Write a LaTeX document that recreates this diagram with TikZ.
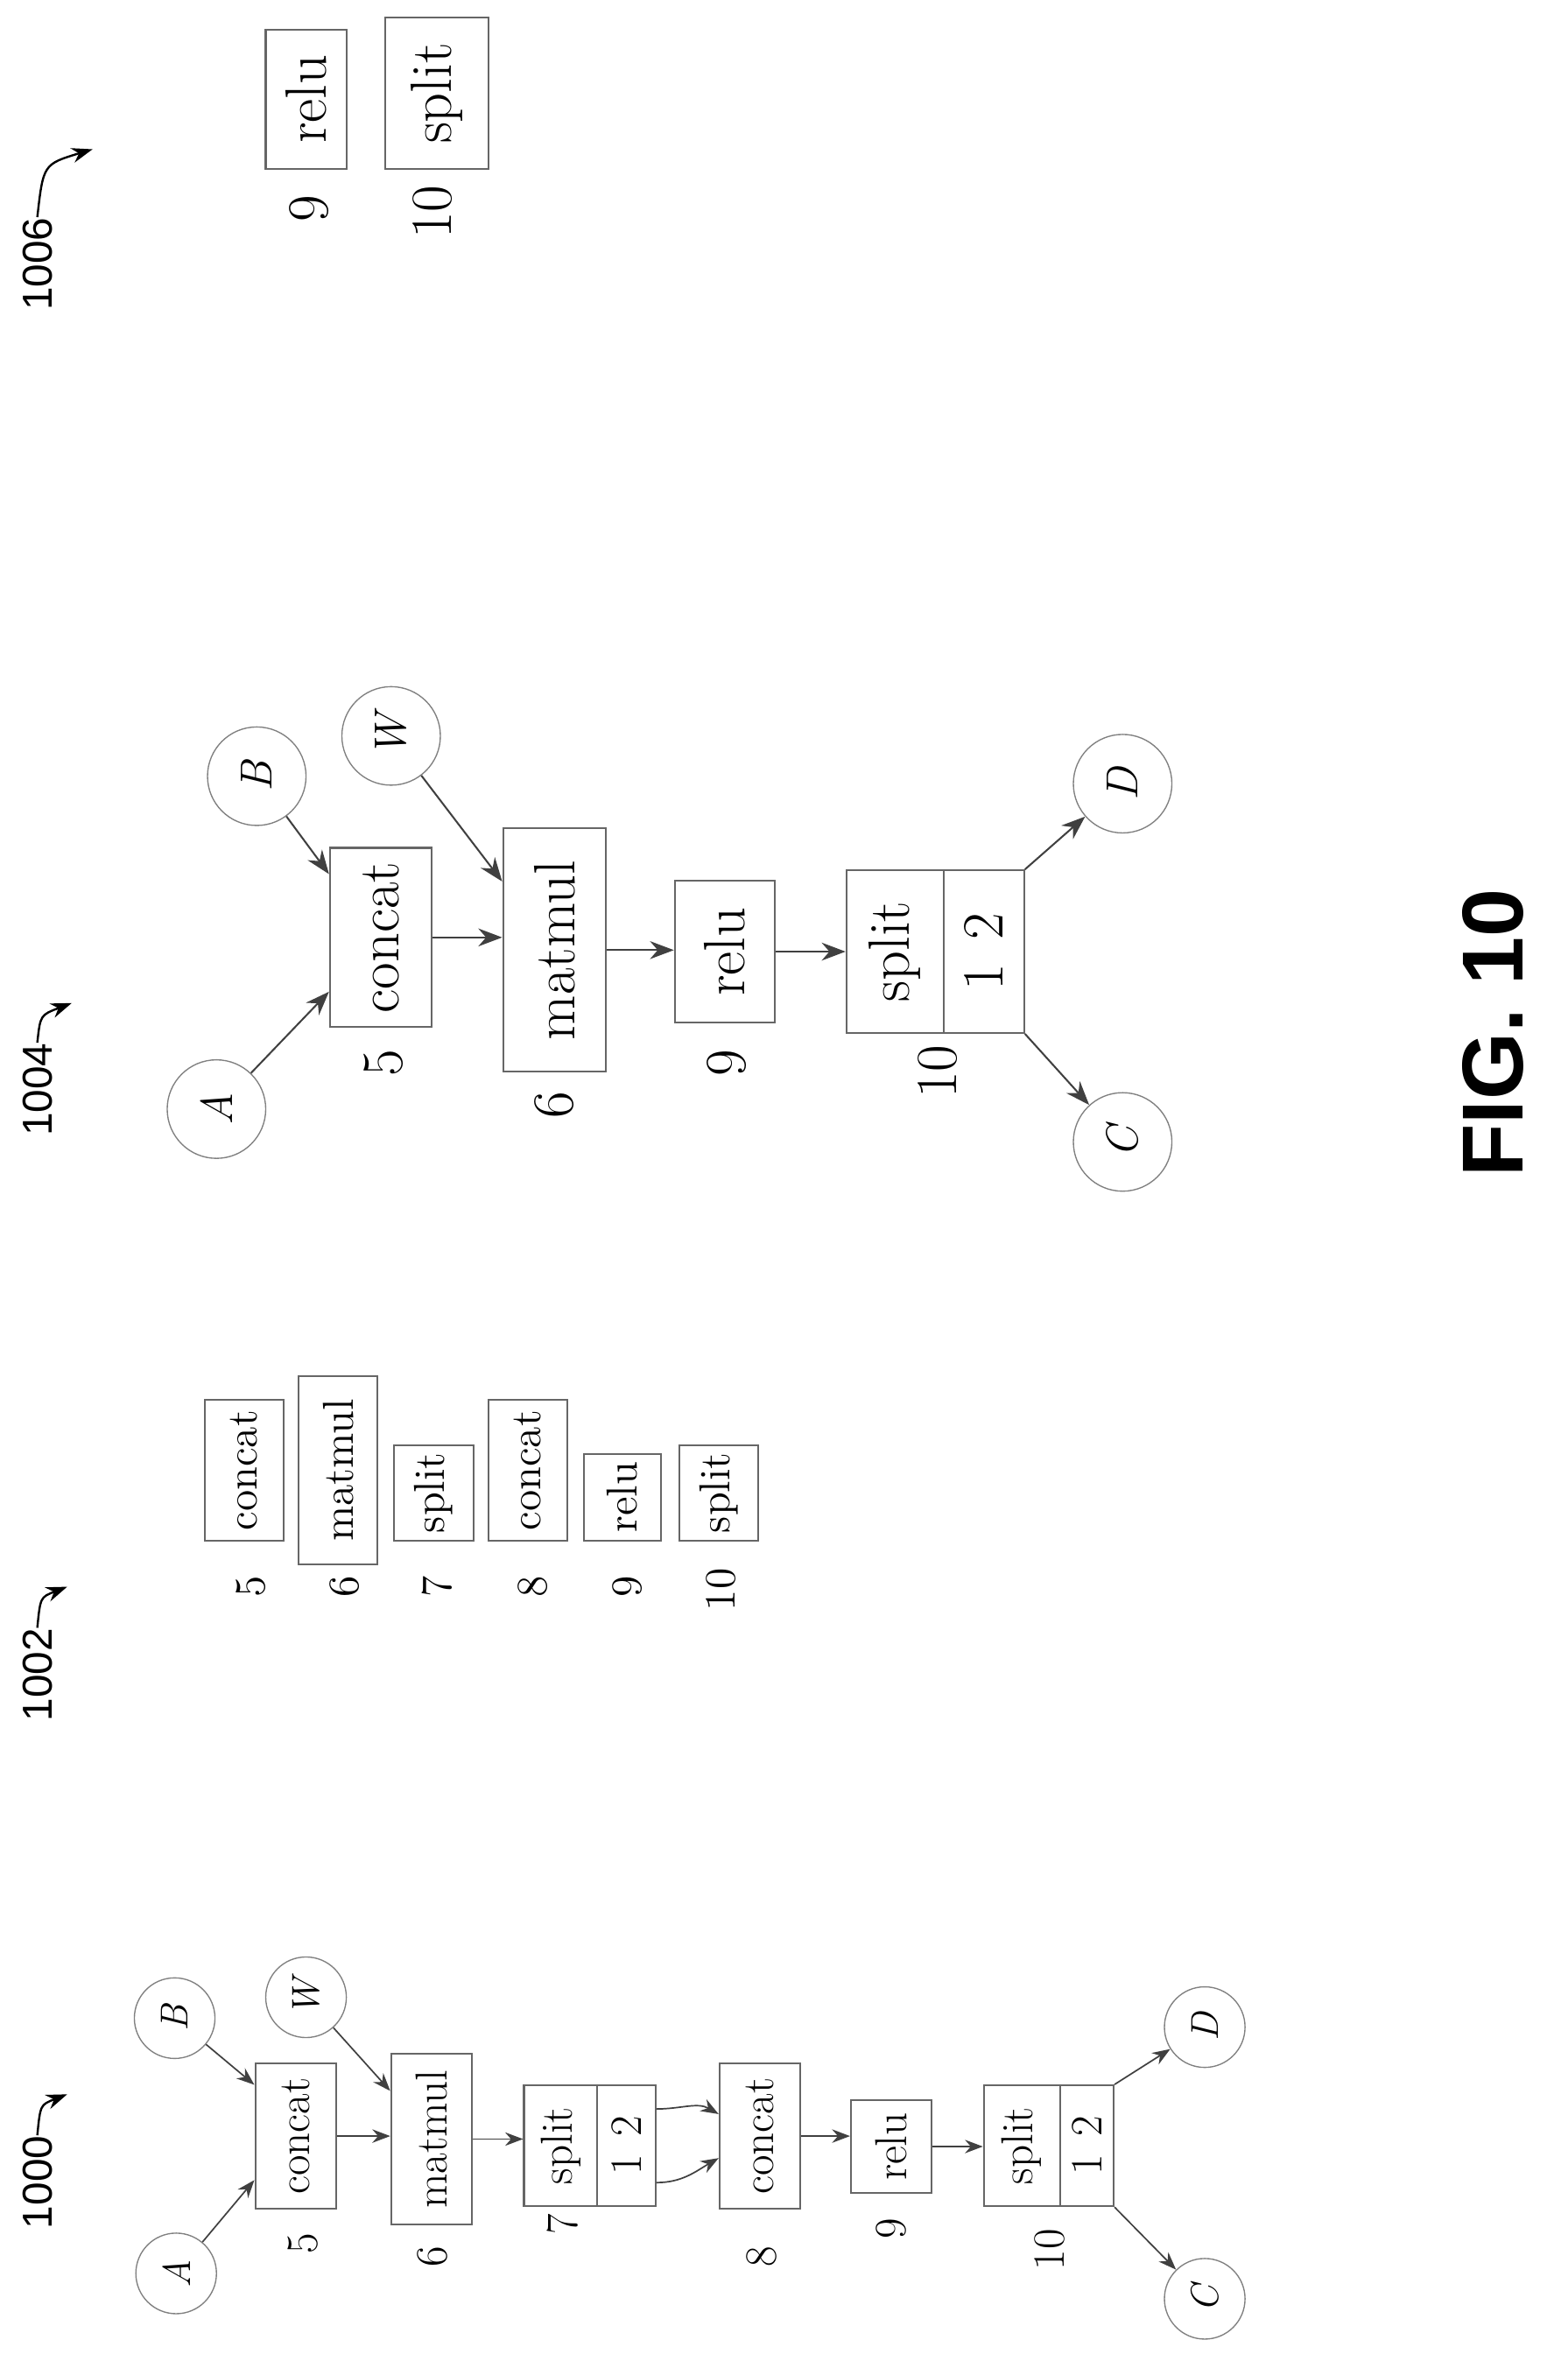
\documentclass[tikz,border=0pt]{standalone}
\usepackage{fontspec}
\newfontfamily\lab{Liberation Sans}
\usetikzlibrary{arrows.meta,calc}
\begin{document}
\begin{tikzpicture}[x=0.5pt,y=-0.5pt,
  bx/.style={draw=black!60,line width=0.6pt,rotate=90,inner sep=0pt},
  sm/.style={bx,font=\fontsize{15}{15}\selectfont},
  md/.style={bx,font=\fontsize{14.5}{14.5}\selectfont},
  lg/.style={bx,font=\fontsize{19.5}{19.5}\selectfont},
  num/.style={rotate=90,inner sep=0pt},
  circ/.style={draw=black!50,circle,inner sep=0pt,rotate=90,font=\itshape},
  ar/.style={-{Stealth[length=6pt,width=4.5pt]},draw=black!75,line width=0.5pt},
  arl/.style={-{Stealth[length=8pt,width=6pt]},draw=black!75,line width=0.6pt},
  ref/.style={rotate=90,inner sep=0pt,font=\lab\fontsize{14}{14}\selectfont},
  refar/.style={-{Stealth[length=7pt,width=5pt]},line width=0.7pt}]
\useasboundingbox (0,0) rectangle (1050,1577);
% ---------- 1000 ----------
\node[ref] (r1000) at (25,1462) {1000};
\coordinate (t1000) at (45,1403);
\draw[refar] (r1000.east) .. controls (27,1410) .. (t1000);
\node[circ,minimum size=27pt,font=\itshape\fontsize{13}{13}\selectfont] (A1) at (118,1523) {A};
\node[circ,minimum size=27pt,font=\itshape\fontsize{13}{13}\selectfont] (B1) at (117,1352) {B};
\node[circ,minimum size=27pt,font=\itshape\fontsize{13}{13}\selectfont] (W1) at (205,1338) {W};
\node[sm,minimum width=48.5pt,minimum height=27pt] (c5) at (198,1431) {concat};
\node[sm,minimum width=57pt,minimum height=27pt] (m6) at (289,1433) {matmul};
\node[sm,minimum width=40.5pt,minimum height=24.5pt] (s7) at (375.5,1437.5) {split};
\node[sm,minimum width=40.5pt,minimum height=19.5pt] (p7) at (419.5,1437.5) {1\hspace{6pt}2};
\node[sm,minimum width=48.5pt,minimum height=27pt] (c8) at (509,1431) {concat};
\node[sm,minimum width=31pt,minimum height=27pt] (r9) at (597,1438) {relu};
\node[sm,minimum width=40.5pt,minimum height=25.5pt] (s10) at (684.5,1437.5) {split};
\node[sm,minimum width=40.5pt,minimum height=18pt] (p10) at (728,1437.5) {1\hspace{6pt}2};
\node[circ,minimum size=27pt,font=\itshape\fontsize{13}{13}\selectfont] (C1) at (807,1540) {C};
\node[circ,minimum size=27pt,font=\itshape\fontsize{13}{13}\selectfont] (D1) at (807,1358) {D};
\begin{scope}[font=\fontsize{15}{15}\selectfont]
\node[num] (n5) at (203,1503) {5};
\node[num] (n6) at (290,1512) {6};
\node[num] (n7) at (377,1490) {7};
\node[num] (n8) at (510,1512) {8};
\node[num] (n9) at (597,1493) {9};
\node[num] (n10) at (703,1507) {10};
\end{scope}
\draw[ar] (A1) -- ($(c5.north west)!0.2!(c5.north east)$);
\draw[ar] (B1) -- ($(c5.north west)!0.85!(c5.north east)$);
\draw[ar] (W1) -- ($(m6.north west)!0.78!(m6.north east)$);
\draw[ar] (c5.south) -- (m6.north |- c5.south);
\draw[ar] (m6.south) -- (s7.north |- m6.south);
\draw[ar] ($(p7.south east)!0.2!(p7.south west)$) to[out=0,in=150] ($(c8.north east)!0.35!(c8.north west)$);
\draw[ar] ($(p7.south east)!0.8!(p7.south west)$) to[out=0,in=210] ($(c8.north east)!0.65!(c8.north west)$);
\draw[ar] (c8.south) -- (r9.north |- c8.south);
\draw[ar] (r9.south) -- (s10.north |- r9.south);
\draw[ar] (p10.south east) -- (D1);
\draw[ar] (p10.south west) -- (C1);
% ---------- 1002 ----------
\node[ref] (r1002) at (25,1122) {1002};
\coordinate (t1002) at (45,1063);
\draw[refar] (r1002.east) .. controls (27,1070) .. (t1002);
\node[md,minimum width=47pt,minimum height=26.5pt] (q5) at (163.5,985) {concat};
\node[md,minimum width=63pt,minimum height=26.5pt] (q6) at (226.5,985) {matmul};
\node[md,minimum width=32pt,minimum height=26.5pt] (q7) at (290.5,1000) {split};
\node[md,minimum width=47pt,minimum height=26.5pt] (q8) at (353.5,985) {concat};
\node[md,minimum width=29pt,minimum height=26pt] (q9) at (417,1003) {relu};
\node[md,minimum width=32pt,minimum height=26.5pt] (q10) at (481.5,1000) {split};
\begin{scope}[font=\fontsize{14.5}{14.5}\selectfont]
\node[num] (qn5) at (168,1063) {5};
\node[num] (qn6) at (231,1063) {6};
\node[num] (qn7) at (293,1063) {7};
\node[num] (qn8) at (357,1063) {8};
\node[num] (qn9) at (420,1063) {9};
\node[num] (qn10) at (483,1065) {10};
\end{scope}
% ---------- 1004 ----------
\node[ref] (r1004) at (25,730) {1004};
\coordinate (t1004) at (48,672);
\draw[refar] (r1004.east) .. controls (27,680) .. (t1004);
\node[circ,minimum size=33pt,font=\itshape\fontsize{15}{15}\selectfont] (A2) at (145,743) {A};
\node[circ,minimum size=33pt,font=\itshape\fontsize{15}{15}\selectfont] (B2) at (172,520) {B};
\node[circ,minimum size=33pt,font=\itshape\fontsize{15}{15}\selectfont] (W2) at (262,493) {W};
\node[lg,minimum width=60pt,minimum height=34pt] (e5) at (255,628) {concat};
\node[lg,minimum width=81.5pt,minimum height=34.5pt] (e6) at (371.5,636.5) {matmul};
\node[lg,minimum width=47.5pt,minimum height=33.5pt] (e9) at (485.5,637.5) {relu};
\node[lg,minimum width=54.5pt,minimum height=32.5pt] (e10) at (599.5,637.5) {split};
\node[lg,minimum width=54.5pt,minimum height=27pt] (f10) at (659,637.5) {1\hspace{8pt}2};
\node[circ,minimum size=33pt,font=\itshape\fontsize{15}{15}\selectfont] (C2) at (752,765) {C};
\node[circ,minimum size=33pt,font=\itshape\fontsize{15}{15}\selectfont] (D2) at (752,525) {D};
\begin{scope}[font=\fontsize{19.5}{19.5}\selectfont]
\node[num] (en5) at (257,712) {5};
\node[num] (en6) at (371,740) {6};
\node[num] (en9) at (487,712) {9};
\node[num] (en10) at (628,718) {10};
\end{scope}
\draw[arl] (A2) -- ($(e5.north west)!0.2!(e5.north east)$);
\draw[arl] (B2) -- ($(e5.north west)!0.85!(e5.north east)$);
\draw[arl] (W2) -- ($(e6.north west)!0.78!(e6.north east)$);
\draw[arl] (e5.south) -- (e6.north |- e5.south);
\draw[arl] (e6.south) -- (e9.north |- e6.south);
\draw[arl] (e9.south) -- (e10.north |- e9.south);
\draw[arl] (f10.south east) -- (D2);
\draw[arl] (f10.south west) -- (C2);
% ---------- 1006 ----------
\node[ref] (r1006) at (25,177) {1006};
\coordinate (t1006) at (62,100);
\draw[refar] (r1006.east) .. controls (29,110) .. (t1006);
\node[lg,minimum width=46.5pt,minimum height=27pt] (g9) at (205,66.5) {relu};
\node[lg,minimum width=50.5pt,minimum height=34.5pt] (g10) at (292.5,62.5) {split};
\begin{scope}[font=\fontsize{19.5}{19.5}\selectfont]
\node[num] (gn9) at (207,140) {9};
\node[num] (gn10) at (290,142) {10};
\end{scope}
% ---------- title ----------
\node[rotate=90,inner sep=0pt,font=\lab\bfseries\fontsize{29}{29}\selectfont] (fig) at (1000,692) {FIG. 10};
\end{tikzpicture}
\end{document}
